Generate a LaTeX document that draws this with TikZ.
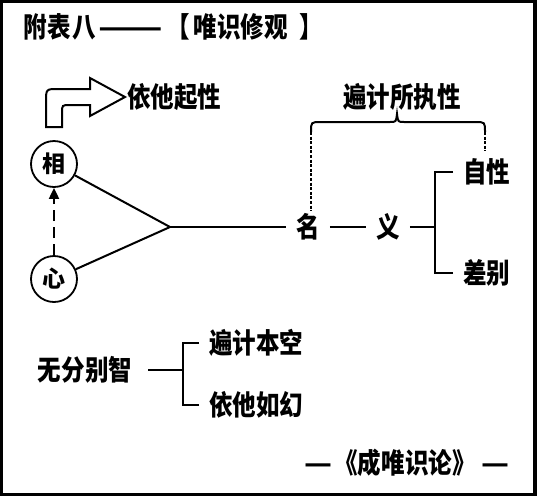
\documentclass[tikz,border=0pt]{standalone}
\usepackage{fontspec}
\newfontfamily\cjk{Noto Sans CJK SC}[BoldFont={Noto Sans CJK SC Black},FakeStretch=0.84]
\newfontfamily\cjkc{Noto Sans CJK SC}[BoldFont={Noto Sans CJK SC Black}]
\usetikzlibrary{arrows.meta}

\begin{document}
\begin{tikzpicture}[
    x=1pt,y=-1pt,
    lbl/.style={font=\cjk\bfseries\fontsize{28}{28}\selectfont,inner xsep=10pt,inner ysep=2pt},
    circ/.style={circle,draw,line width=1.8pt,minimum size=46pt,inner sep=0pt,font=\cjkc\bfseries\fontsize{23}{23}\selectfont},
    ln/.style={line width=2pt},
    dashln/.style={line width=2.4pt,dash pattern=on 3pt off 1.6pt},
    arr/.style={line width=2pt,dash pattern=on 11pt off 6pt,-{Triangle[length=11pt,width=10pt]}}
]
\useasboundingbox (0,0) rectangle (537,496);
% frame
\draw[line width=3pt] (1.5,1.5) rectangle (534,494);
\draw[line width=2pt] (535.5,0) -- (535.5,496);

\node[lbl,anchor=west,inner xsep=0pt] (title) at (23,27)
  {附\kern1pt表\kern1pt八\kern3pt\scalebox{1.6}[1]{——}\kern3pt【\kern4pt唯识修观\kern12pt】};

% left part
\node[circ] (xiang) at (54,164) {相};
\node[circ] (xin) at (54,279) {心};
\coordinate (apex) at (170,227);
\draw[arr] (xin) -- (xiang);
\draw[ln] (xiang) -- (apex) -- (xin);

\node[lbl,anchor=west,inner xsep=0pt] (yita) at (127,97) {依他起性};
\draw[ln,line join=miter] (46,127) -- (46,102) .. controls (46,89) .. (58,89) -- (90,89)
    -- (90,78) -- (125,97) -- (90,116) -- (90,105) -- (70,105)
    .. controls (62,105) .. (62,113) -- (62,127) -- cycle;

% right part
\node[lbl] (ming) at (308,227) {名};
\node[lbl] (yi) at (388,227) {义};
\node[lbl,anchor=west] (zixing) at (453,172) {自性};
\node[lbl,anchor=west] (chabie) at (453,273) {差别};
\coordinate (br1) at (435,227);
\draw[ln] (apex) -- (ming);
\draw[ln] (ming) -- (yi);
\draw[ln] (yi) -- (br1);
\draw[ln] (zixing) -| (br1);
\draw[ln] (chabie) -| (br1);

\node[lbl] (bianji) at (402,97) {遍计所执性};
\coordinate (brL) at (311,132);
\coordinate (brR) at (485,132);
\draw[ln] (brL) .. controls (311,122) .. (321,122) -- (390,122)
    .. controls (396,122) .. (397,114) .. controls (398,122) .. (404,122)
    -- (475,122) .. controls (485,122) .. (brR);
\draw[dashln] (brL) -- (brL |- ming.north);
\draw[dashln,shorten >=5pt] (brR) -- (brR |- zixing.north);

% bottom part
\node[lbl] (wufen) at (85,370) {无分别智};
\node[lbl,anchor=west] (bianjik) at (199,343) {遍计本空};
\node[lbl,anchor=west] (yitah) at (199,405) {依他如幻};
\coordinate (br2) at (183,370);
\draw[ln,shorten <=6pt] (wufen) -- (br2);
\draw[ln] (bianjik) -| (br2);
\draw[ln] (yitah) -| (br2);

\node[lbl] (src) at (407,463) {\scalebox{1.3}[1]{—}\kern2pt《成唯识论》\kern6pt\scalebox{1.3}[1]{—}};
\end{tikzpicture}
\end{document}
